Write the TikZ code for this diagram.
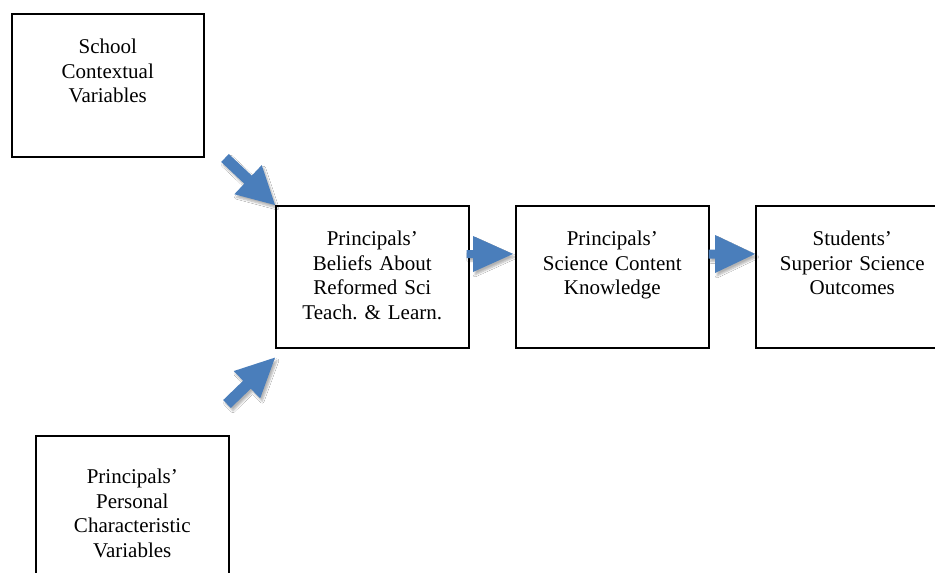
\documentclass[tikz,border=0pt]{standalone}
\usepackage{fontspec}
\setmainfont{Liberation Serif}
\usetikzlibrary{calc,shadows.blur}
\definecolor{arrowblue}{RGB}{74,126,187}
\frenchspacing
\tikzset{
  boxnode/.style={draw=black, line width=1.6pt, inner sep=0pt, minimum width=193pt, minimum height=142pt, anchor=north west},
  txtnode/.style={inner sep=0pt, align=center, text width=190pt, anchor=north, font=\fontsize{21pt}{24.5pt}\selectfont},
  arrowfill/.style={fill=arrowblue, draw=none, blur shadow={shadow xshift=2pt, shadow yshift=-3pt, shadow opacity=30, shadow blur steps=6}}
}
% #1 tail, #2 tip, #3 half shaft width, #4 half head width, #5 head length
\newcommand\blockarr[5]{%
  \coordinate (#1h) at ($(#2)!#5!(#1)$);
  \path[arrowfill] ($(#1)!#3!90:(#2)$) -- ($(#1h)!#3!-90:(#1)$) -- ($(#1h)!#4!-90:(#1)$) -- (#2)
     -- ($(#1h)!#4!90:(#1)$) -- ($(#1h)!#3!90:(#1)$) -- ($(#1)!#3!-90:(#2)$) -- cycle;
}
\begin{document}
\begin{tikzpicture}[x=1pt,y=-1pt]
\clip (0,0) rectangle (935,573);
\fill[white] (0,0) rectangle (935,573);
% boxes
\node[boxnode, minimum width=192pt, minimum height=143pt] (b1) at (11,13) {};
\node[txtnode] (t1) at ($(b1.north)+(0,26)$) {School\\Contextual\\Variables};
\node[boxnode] (b2) at (275,205) {};
\node[txtnode] (t2) at ($(b2.north)+(0,26)$) {Principals’\\Beliefs About\\Reformed Sci\\Teach. \& Learn.};
\node[boxnode] (b3) at (515,205) {};
\node[txtnode] (t3) at ($(b3.north)+(0,26)$) {Principals’\\Science Content\\Knowledge};
\node[boxnode] (b4) at (755,205) {};
\node[txtnode] (t4) at ($(b4.north)+(0,26)$) {Students’\\Superior Science\\Outcomes};
\node[boxnode, minimum height=160pt] (b5) at (35,435) {};
\node[txtnode] (t5) at ($(b5.north)+(0,34)$) {Principals’\\Personal\\Characteristic\\Variables};
% arrows
\coordinate (a1t) at (225,158);
\coordinate (a1p) at (b2.north west);
\blockarr{a1t}{a1p}{5.5pt}{20pt}{37pt}
\coordinate (a2t) at (227,404);
\coordinate (a2p) at ($(b2.south west)+(0,9)$);
\blockarr{a2t}{a2p}{5.5pt}{19pt}{39pt}
\coordinate (a3t) at ($(b2.north east)+(-3,49)$);
\coordinate (a3p) at ($(b3.north west)+(-2,49)$);
\blockarr{a3t}{a3p}{4pt}{18pt}{40pt}
\coordinate (a4t) at ($(b3.north east)+(-1,49)$);
\coordinate (a4p) at ($(b4.north west)+(0,49)$);
\blockarr{a4t}{a4p}{4.5pt}{19pt}{40pt}
\end{tikzpicture}
\end{document}
